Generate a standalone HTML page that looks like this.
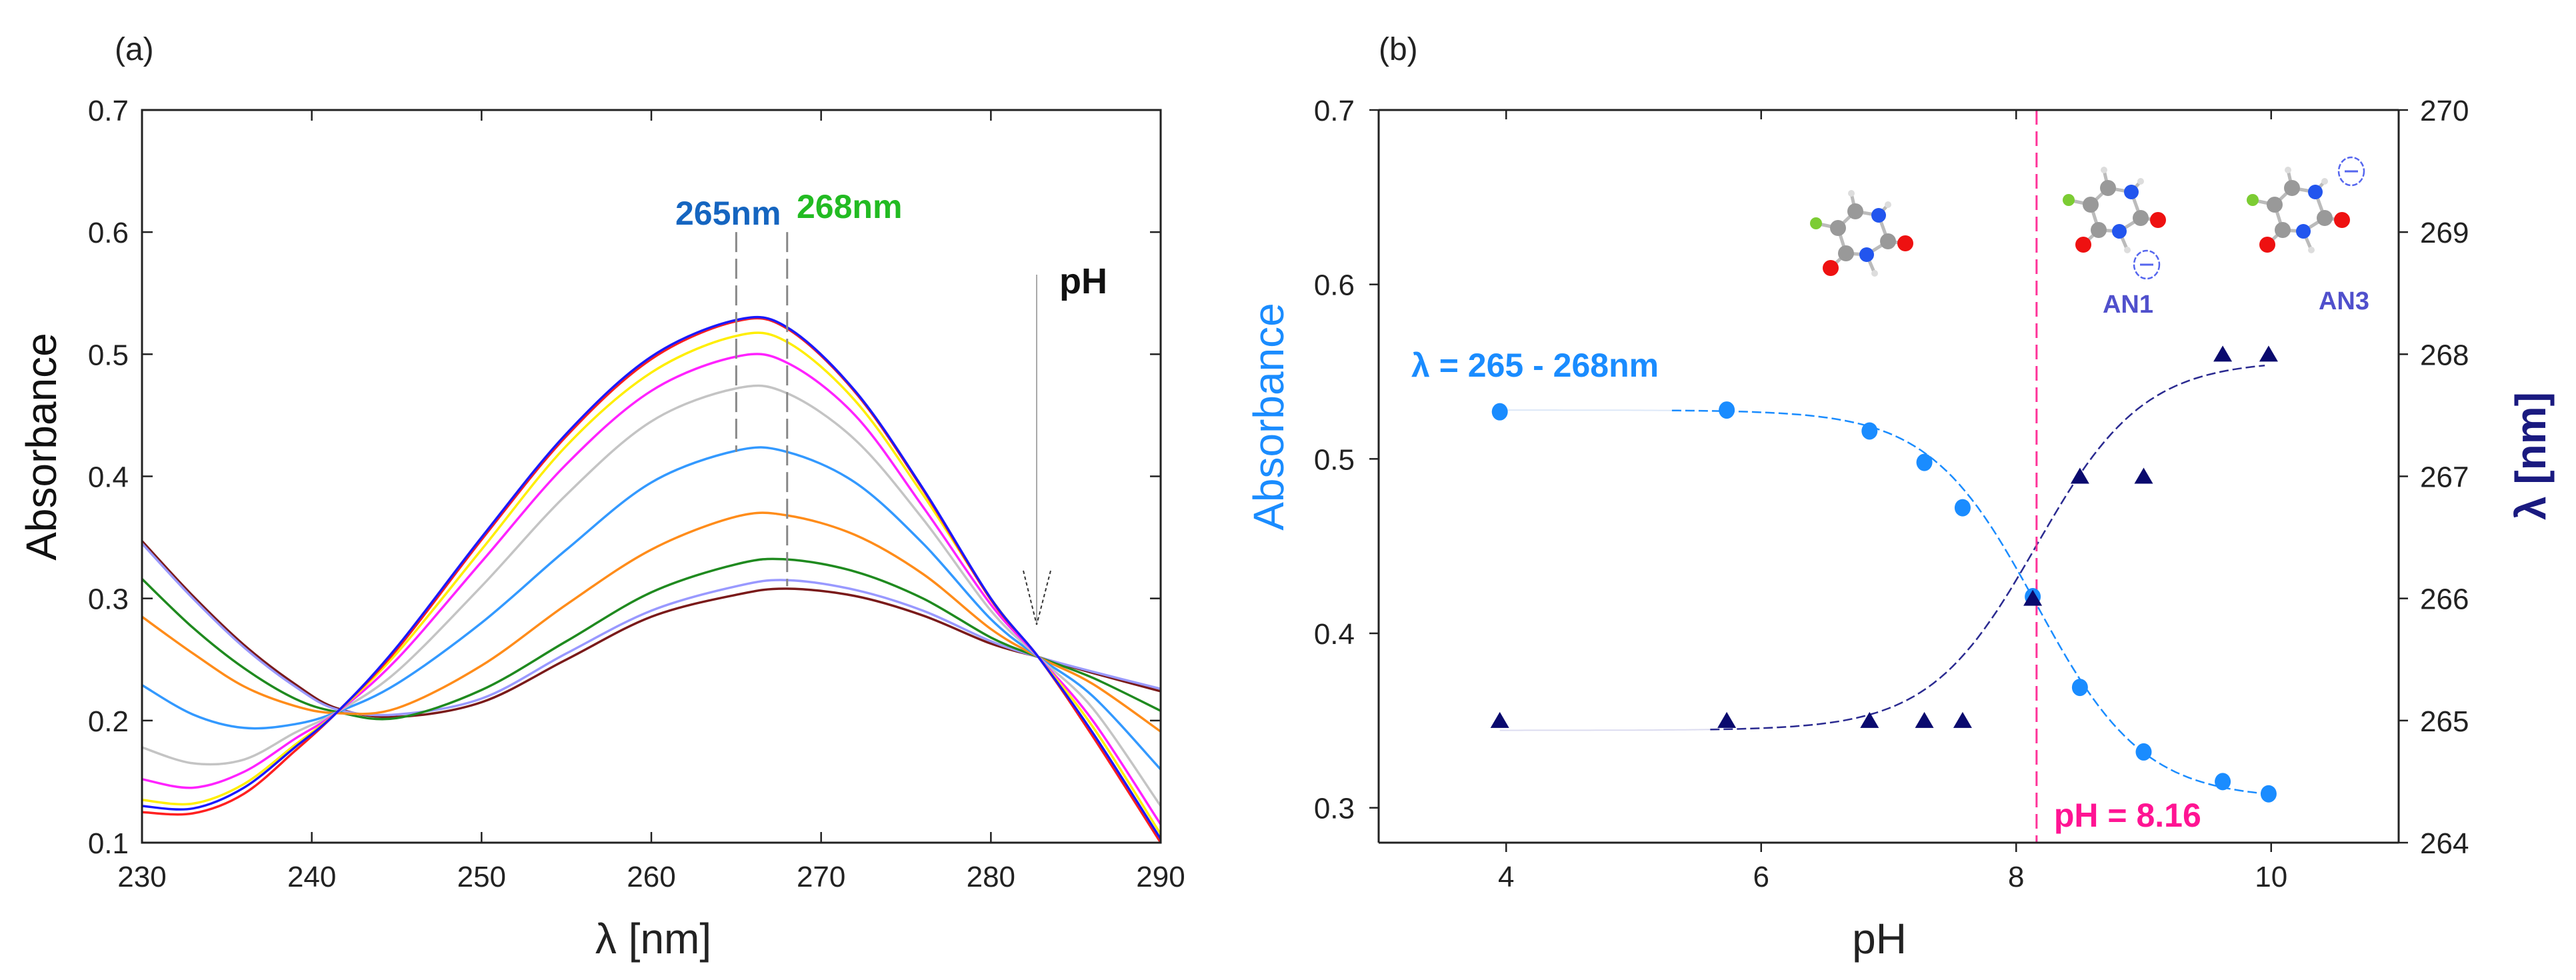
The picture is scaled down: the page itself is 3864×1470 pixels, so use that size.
<!DOCTYPE html>
<html><head><meta charset="utf-8"><style>
html,body{margin:0;padding:0;background:#fff;}
svg{display:block;font-family:"Liberation Sans",Arial,sans-serif;}
</style></head><body>
<svg id="fig" width="3864" height="1470" viewBox="0 0 3864 1470" xmlns="http://www.w3.org/2000/svg">
<g id="pa"></g>
<g id="pb"></g>
</svg>
<script>
// ---------- Panel (a) data ----------
const wavelengths = [230,233,236,239,241.5,245,250,255,260,265,268,272,276,280,282.8,286,290];
const seriesNames = ["blue","red","yellow","magenta","gray","lightblue","orange","green","lavender","brown"];
const seriesColors = ["#1a1aff","#ff2020","#ffee00","#ff22ff","#c4c4c4","#3399ff","#ff8c1a","#1f8a1f","#9999ff","#7a1a1a"];
const sBlue     = [.130,.128,.145,.178,.207,.260,.350,.435,.498,.528,.522,.470,.390,.300,.252,.190,.103];
const sRed      = [.125,.124,.140,.175,.207,.258,.348,.433,.496,.527,.521,.469,.389,.299,.252,.187,.100];
const sYellow   = [.135,.132,.148,.180,.207,.255,.340,.425,.485,.515,.510,.462,.385,.300,.252,.195,.107];
const sMagenta  = [.152,.145,.158,.185,.207,.250,.330,.410,.470,.498,.493,.450,.375,.295,.252,.200,.115];
const sGray     = [.178,.165,.168,.190,.207,.240,.310,.385,.445,.472,.468,.430,.365,.290,.252,.210,.130];
const sLightBlue= [.229,.205,.194,.197,.207,.230,.280,.340,.395,.421,.420,.395,.345,.283,.252,.220,.160];
const sOrange   = [.285,.255,.228,.212,.206,.210,.245,.295,.340,.367,.368,.352,.320,.275,.252,.230,.191];
const sGreen    = [.316,.276,.243,.218,.207,.202,.225,.265,.305,.328,.332,.322,.300,.268,.252,.235,.208];
const sLavender = [.345,.300,.260,.228,.209,.205,.218,.255,.290,.310,.315,.307,.290,.265,.252,.240,.226];
const sBrown    = [.347,.302,.262,.230,.210,.203,.215,.250,.285,.303,.308,.302,.286,.263,.252,.239,.224];
const seriesValues = [sBlue,sRed,sYellow,sMagenta,sGray,sLightBlue,sOrange,sGreen,sLavender,sBrown];
const aXTicks = [230,240,250,260,270,280,290];
const aYTicks = [0.1,0.2,0.3,0.4,0.5,0.6,0.7];

// ---------- Panel (b) data ----------
const phAbs = [3.95,5.73,6.85,7.28,7.58,8.13,8.5,9.0,9.62,9.98];
const absValues = [0.527,0.528,0.516,0.498,0.472,0.421,0.369,0.332,0.315,0.308];
const phLam = [3.95,5.73,6.85,7.28,7.58,8.13,8.5,9.0,9.62,9.98];
const lamValues = [265,265,265,265,265,266,267,267,268,268];
const absFit = [0.528,0.305,8.16,0.42]; // top, bottom, pKa, width
const lamFit = [264.92,267.95,8.16,0.42];
const pKa = [8.16];
const bXTicks = [4,6,8,10];
const bYTicksL = [0.3,0.4,0.5,0.6,0.7];
const bYTicksR = [264,265,266,267,268,269,270];

const NS="http://www.w3.org/2000/svg";
function mk(parent,tag,attrs,text){const e=document.createElementNS(NS,tag);for(const k in attrs)e.setAttribute(k,attrs[k]);if(text!==undefined)e.textContent=text;parent.appendChild(e);return e;}
function smooth(pts){let d="M"+pts[0][0].toFixed(1)+","+pts[0][1].toFixed(1);
 for(let i=0;i<pts.length-1;i++){const p0=pts[i-1]||pts[i],p1=pts[i],p2=pts[i+1],p3=pts[i+2]||p2;
 const c1=[p1[0]+(p2[0]-p0[0])/6,p1[1]+(p2[1]-p0[1])/6],c2=[p2[0]-(p3[0]-p1[0])/6,p2[1]-(p3[1]-p1[1])/6];
 d+="C"+c1[0].toFixed(1)+","+c1[1].toFixed(1)+" "+c2[0].toFixed(1)+","+c2[1].toFixed(1)+" "+p2[0].toFixed(1)+","+p2[1].toFixed(1);}return d;}

// ===== Panel A =====
const pa=document.getElementById('pa');
const aL=213,aR=1741,aT=165,aB=1264;
const ax=v=>aL+(v-230)/60*(aR-aL);
const ay=v=>aB-(v-0.1)/0.6*(aB-aT);
let t=mk(pa,'text',{x:172,y:90,'font-size':48,fill:'#222'},'(a)');


const aCurves=mk(pa,'g',{});


for(let s=seriesValues.length-1;s>=0;s--){
 const pts=wavelengths.map((w,i)=>[ax(w),ay(seriesValues[s][i])]);
 const p=mk(aCurves,'path',{d:smooth(pts),fill:'none',stroke:seriesColors[s],'stroke-width':3.5});
 
 
}
// dashed markers
[[265,0.6,0.42],[268,0.6,0.31]].forEach((m,i)=>{
 const l=mk(pa,'line',{x1:ax(m[0]),x2:ax(m[0]),y1:ay(m[1]),y2:ay(m[2]),stroke:'#888','stroke-width':3,'stroke-dasharray':'30,10'});
 
 
});
t=mk(pa,'text',{x:1013,y:337,'font-size':50,'font-weight':'bold',fill:'#1565c0'},'265nm');


t=mk(pa,'text',{x:1195,y:327,'font-size':50,'font-weight':'bold',fill:'#22bb22'},'268nm');


// pH arrow
const arr=mk(pa,'g',{});


mk(arr,'line',{x1:1555,x2:1555,y1:412,y2:937,stroke:'#aaa','stroke-width':2});
mk(arr,'path',{d:'M1535,856 L1555,937 L1576,856',fill:'none',stroke:'#333','stroke-width':2,'stroke-dasharray':'5,4'});
t=mk(pa,'text',{x:1589,y:440,'font-size':54,'font-weight':'bold',fill:'#111'},'pH');


// frame and ticks
const fa=mk(pa,'rect',{x:aL,y:aT,width:aR-aL,height:aB-aT,fill:'none',stroke:'#222','stroke-width':3});


aXTicks.forEach(v=>{
 mk(pa,'line',{x1:ax(v),x2:ax(v),y1:aB,y2:aB-16,stroke:'#222','stroke-width':2.5});
 mk(pa,'line',{x1:ax(v),x2:ax(v),y1:aT,y2:aT+16,stroke:'#222','stroke-width':2.5});
 const tt=mk(pa,'text',{x:ax(v),y:aB+66,'font-size':44,'text-anchor':'middle',fill:'#222'},String(v));
 
 
});
aYTicks.forEach(v=>{
 mk(pa,'line',{x1:aL,x2:aL+16,y1:ay(v),y2:ay(v),stroke:'#222','stroke-width':2.5});
 mk(pa,'line',{x1:aR,x2:aR-16,y1:ay(v),y2:ay(v),stroke:'#222','stroke-width':2.5});
 const tt=mk(pa,'text',{x:aL-20,y:ay(v)+16,'font-size':44,'text-anchor':'end',fill:'#222'},v.toFixed(1));
 
 
});
t=mk(pa,'text',{x:0,y:0,'font-size':64,'text-anchor':'middle',fill:'#111',transform:'translate(84,670) rotate(-90)'},'Absorbance');


t=mk(pa,'text',{x:980,y:1430,'font-size':64,'text-anchor':'middle',fill:'#222'},'λ [nm]');



// ===== Panel B =====
const pb=document.getElementById('pb');
const bL=2068,bR=3598,bT=165,bB=1264;
const bx=v=>bL+(v-3)/8*(bR-bL);
const byL=v=>bB-(v-0.28)/0.42*(bB-bT);
const byR=v=>bB-(v-264)/6*(bB-bT);
t=mk(pb,'text',{x:2068,y:90,'font-size':48,fill:'#222'},'(b)');


function sig(p,x){return p[1]+(p[0]-p[1])/(1+Math.exp((x-p[2])/p[3]));}
function fitPath(p,yf,x0,x1){const pts=[];for(let x=x0;x<=x1+1e-9;x+=0.05)pts.push([bx(x),yf(sig(p,x))]);return "M"+pts.map(q=>q[0].toFixed(1)+","+q[1].toFixed(1)).join("L");}
let f=mk(pb,'path',{d:fitPath(absFit,byL,3.95,5.3),fill:'none',stroke:'#dde8f8','stroke-width':2});


f=mk(pb,'path',{d:fitPath(absFit,byL,5.3,9.98),fill:'none',stroke:'#1a8cff','stroke-width':2.5,'stroke-dasharray':'14,6'});


f=mk(pb,'path',{d:fitPath(lamFit,byR,3.95,5.6),fill:'none',stroke:'#dcdcf0','stroke-width':2});


f=mk(pb,'path',{d:fitPath(lamFit,byR,5.6,9.98),fill:'none',stroke:'#2a2a90','stroke-width':2.5,'stroke-dasharray':'14,6'});


// pKa line
const pl=mk(pb,'line',{x1:bx(pKa[0]),x2:bx(pKa[0]),y1:bT,y2:bB,stroke:'#ff3399','stroke-width':3,'stroke-dasharray':'22,10'});


t=mk(pb,'text',{x:bx(pKa[0])+26,y:1240,'font-size':50,'font-weight':'bold',fill:'#ff1493'},'pH = '+pKa[0].toFixed(2));


phAbs.forEach((p,i)=>{
 const c=mk(pb,'ellipse',{cx:bx(p),cy:byL(absValues[i]),rx:12,ry:13,fill:'#1a8cff'});
 
 
});
phLam.forEach((p,i)=>{
 const x=bx(p),y=byR(lamValues[i]);
 const tr=mk(pb,'path',{d:`M${x-14},${y+11} L${x},${y-13} L${x+14},${y+11} Z`,fill:'#0a0a6e'});
 
 
});
t=mk(pb,'text',{x:2117,y:565,'font-size':50,'font-weight':'bold',fill:'#1a8cff'},'λ = 265 - 268nm');


// molecules
const atoms=[["F",-33,-7,9,"#7ccc33"],["C6",26,-25,12,"#999"],["N1",61,-19,11,"#2255ee"],["C2",75,20,12,"#999"],["O2",101,23,12,"#ee1111"],["N3",43,40,11,"#2255ee"],["C4",12,38,12,"#999"],["O4",-11,60,12,"#ee1111"],["H6",20,-52,5,"#ddd"],["H1",75,-35,5,"#ddd"],["H3",55,68,5,"#ddd"],["C5",0,0,12,"#999"]];
const bonds=[["F","C5"],["C5","C6"],["C6","N1"],["N1","C2"],["C2","O2"],["C2","N3"],["N3","C4"],["C4","C5"],["C4","O4"],["C6","H6"],["N1","H1"],["N3","H3"]];
function molecule(cx,cy,name){
 const g=mk(pb,'g',{transform:`translate(${cx},${cy})`});
 
 
 const A={};atoms.forEach(a=>A[a[0]]=a);
 bonds.forEach(b=>mk(g,'line',{x1:A[b[0]][1],y1:A[b[0]][2],x2:A[b[1]][1],y2:A[b[1]][2],stroke:'#bbb','stroke-width':5}));
 atoms.forEach(a=>mk(g,'circle',{cx:a[1],cy:a[2],r:a[3],fill:a[4]}));
}
molecule(2757,342,'molecule-neutral');
molecule(3136,307,'molecule-an1');
molecule(3412,307,'molecule-an3');
[[3220,397,'minus-charge-an1'],[3527,257,'minus-charge-an3']].forEach(m=>{
 const g=mk(pb,'g',{});
 
 
 mk(g,'ellipse',{cx:m[0],cy:m[1],rx:19,ry:21,fill:'none',stroke:'#5566ee','stroke-width':2.5,'stroke-dasharray':'8,3'});
 mk(g,'line',{x1:m[0]-10,x2:m[0]+10,y1:m[1],y2:m[1],stroke:'#5566ee','stroke-width':3});
});
t=mk(pb,'text',{x:3192,y:469,'font-size':38,'font-weight':'bold','text-anchor':'middle',fill:'#5050cc'},'AN1');


t=mk(pb,'text',{x:3516,y:464,'font-size':38,'font-weight':'bold','text-anchor':'middle',fill:'#5050cc'},'AN3');


// frame
mk(pb,'line',{x1:bL,x2:bL,y1:bT,y2:bB,stroke:'#222','stroke-width':3});
mk(pb,'line',{x1:bL,x2:bR,y1:bB,y2:bB,stroke:'#222','stroke-width':3});
mk(pb,'line',{x1:bL,x2:bR,y1:bT,y2:bT,stroke:'#222','stroke-width':3});
mk(pb,'line',{x1:bR,x2:bR,y1:bT,y2:bB,stroke:'#222','stroke-width':3});
bXTicks.forEach(v=>{
 mk(pb,'line',{x1:bx(v),x2:bx(v),y1:bB,y2:bB+14,stroke:'#222','stroke-width':2.5});
 mk(pb,'line',{x1:bx(v),x2:bx(v),y1:bT,y2:bT+14,stroke:'#222','stroke-width':2.5});
 const tt=mk(pb,'text',{x:bx(v),y:bB+66,'font-size':44,'text-anchor':'middle',fill:'#222'},String(v));
 
 
});
bYTicksL.forEach(v=>{
 mk(pb,'line',{x1:bL-14,x2:bL,y1:byL(v),y2:byL(v),stroke:'#222','stroke-width':2.5});
 const tt=mk(pb,'text',{x:bL-36,y:byL(v)+16,'font-size':44,'text-anchor':'end',fill:'#222'},v.toFixed(1));
 
 
});
bYTicksR.forEach(v=>{
 mk(pb,'line',{x1:bR,x2:bR+14,y1:byR(v),y2:byR(v),stroke:'#222','stroke-width':2.5});
 const tt=mk(pb,'text',{x:bR+32,y:byR(v)+16,'font-size':44,fill:'#222'},String(v));
 
 
});
t=mk(pb,'text',{x:0,y:0,'font-size':64,'text-anchor':'middle',fill:'#1a8cff',transform:'translate(1925,625) rotate(-90)'},'Absorbance');


t=mk(pb,'text',{x:0,y:0,'font-size':64,'font-weight':'bold','text-anchor':'middle',fill:'#1a1a80',transform:'translate(3818,684) rotate(-90)'},'λ [nm]');


t=mk(pb,'text',{x:2819,y:1430,'font-size':64,'text-anchor':'middle',fill:'#222'},'pH');


</script>
</body></html>
